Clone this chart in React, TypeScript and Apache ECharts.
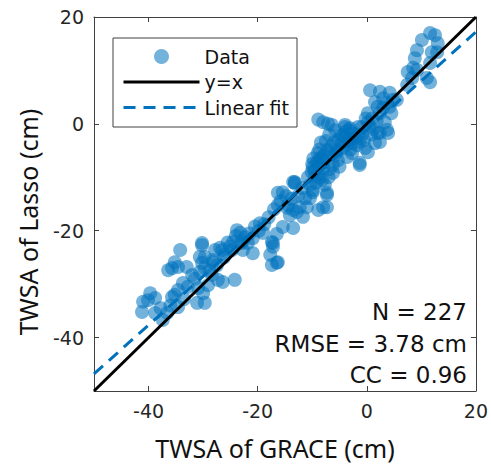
import React, { useEffect, useRef } from "react";
import * as echarts from "echarts";

// [GRACE TWSA (cm), Lasso TWSA (cm)]
const lowerCluster: number[][] = [
  [-34.2, -23.6], [-30.2, -22.3], [-35.2, -25.9], [-35.7, -27.0], [-34.6, -26.8], [-33.0, -26.8],
  [-36.4, -27.4], [-30.6, -24.9], [-29.7, -27.0], [-28.2, -25.9], [-27.8, -23.6], [-26.5, -23.6],
  [-32.0, -28.3], [-33.7, -29.8], [-34.6, -31.1], [-35.2, -32.0], [-35.7, -32.4], [-30.9, -30.7],
  [-30.0, -31.7], [-31.1, -33.5], [-29.7, -33.5], [-34.6, -34.3], [-39.7, -31.7], [-40.1, -33.0],
  [-38.8, -32.6], [-41.0, -33.3], [-41.2, -35.2], [-38.8, -35.4], [-37.4, -36.7], [-36.6, -35.4],
  [-29.1, -30.2], [-28.4, -28.3], [-30.6, -27.7], [-26.4, -29.6], [-27.3, -29.2], [-30.2, -22.7],
  [-29.7, -24.9], [-30.2, -26.0], [-28.2, -25.5], [-26.0, -24.5], [-26.9, -23.2], [-26.2, -25.0],
  [-27.5, -26.5], [-28.8, -27.5], [-31.5, -29.0], [-32.8, -30.5], [-33.5, -32.8], [-36.0, -34.0],
  [-37.8, -34.5],
];
const midBand: number[][] = [
  [-24.7, -23.6], [-22.9, -22.3], [-24.2, -29.2], [-16.3, -12.9], [-16.3, -15.2], [-14.4, -15.2],
  [-12.8, -16.5], [-14.1, -17.1], [-15.4, -19.3], [-13.5, -19.5], [-16.5, -20.6], [-17.4, -22.1],
  [-17.2, -23.0], [-16.3, -25.9], [-17.4, -26.4], [-17.7, -24.5], [-19.6, -18.6], [-19.0, -20.4],
  [-20.9, -21.4], [-21.8, -22.3], [-23.8, -19.9], [-23.2, -20.4], [-24.5, -22.1], [-25.1, -23.0],
  [-22.7, -23.6], [-20.9, -24.2], [-13.2, -11.1], [-13.2, -10.9], [-12.3, -15.6], [-13.5, -16.1],
  [-14.6, -15.7], [-15.4, -12.8], [-16.5, -26.0], [-17.2, -22.3], [-12.6, -13.5], [-13.8, -14.0],
  [-14.8, -13.5], [-15.8, -14.5], [-17.0, -16.0], [-18.0, -17.5], [-18.8, -18.8], [-19.8, -20.0],
  [-20.5, -19.2], [-21.5, -20.5], [-22.3, -21.2], [-23.0, -22.0], [-24.0, -21.0], [-25.5, -22.2],
  [-13.5, -10.9],
];
const centerCluster: number[][] = [
  [-11.7, -17.4], [-11.3, -13.9], [-9.9, -12.8], [-8.0, -15.6], [-8.0, 0.3], [-6.4, -0.2],
  [-4.0, -0.2], [-4.0, -2.5], [-0.9, -0.6], [-1.3, -3.4], [-2.7, -3.6], [-4.6, -3.6],
  [-5.5, -4.9], [-6.8, -5.5], [-8.2, -6.2], [-9.1, -7.1], [-9.9, -8.1], [-10.1, -9.0],
  [-9.5, -9.9], [-8.0, -8.3], [-6.2, -7.7], [-5.3, -6.8], [-3.6, -6.2], [-2.7, -5.5],
  [-1.3, -7.7], [-8.6, -10.1], [-10.4, -11.4], [-9.9, -12.4], [-7.7, -11.4], [-10.4, -13.9],
  [-11.0, -15.6], [-8.9, -16.1], [-7.3, -15.6], [-7.3, -12.9], [-1.6, -0.6], [-3.1, -0.8],
  [-4.0, -0.6], [-0.9, -2.1], [-4.4, -2.1], [-1.3, -7.3], [-7.3, -13.3], [-9.0, -7.5],
  [-8.5, -6.5], [-7.8, -5.8], [-7.2, -4.9], [-6.5, -4.2], [-6.0, -3.5], [-5.2, -3.0],
  [-4.8, -2.2], [-3.9, -1.5], [-3.2, -1.2], [-2.5, -1.8], [-2.0, -2.6], [-1.5, -2.0],
  [-9.6, -8.8], [-8.8, -9.5], [-8.2, -10.5], [-9.3, -11.0], [-10.8, -10.0], [-9.8, -6.5],
  [-8.7, -4.8], [-7.5, -3.2], [-6.9, -2.0], [-7.9, -7.2], [-6.8, -8.5], [-6.0, -6.0],
  [-5.5, -5.3], [-4.6, -4.6], [-3.5, -3.8], [-2.9, -2.9], [-1.8, -4.0], [-0.5, -3.0],
  [-10.0, -7.5], [-9.0, -5.5], [-8.4, -3.5], [-7.0, -10.0], [-6.2, -9.2], [-5.0, -8.0],
  [-7.1, 0.0], [-8.9, 0.8], [-0.3, -4.5], [-3.0, -4.8], [-11.8, -12.0], [-5.8, -1.2],
];
const upperCluster: number[][] = [
  [0.2, 0.3], [2.4, -1.7], [1.5, -3.6], [0.2, -5.3], [11.6, 17.0], [12.5, 16.6],
  [13.0, 15.1], [10.1, 15.7], [12.9, 13.4], [11.9, 13.4], [9.2, 13.8], [8.8, 12.3],
  [11.6, 11.4], [8.5, 10.5], [7.5, 9.7], [9.2, 10.1], [8.3, 8.6], [11.0, 8.6],
  [11.6, 7.8], [7.4, 7.3], [0.6, 6.3], [2.4, 6.0], [4.2, 5.8], [3.0, 4.8],
  [4.8, 4.5], [3.7, 3.9], [1.5, 4.1], [3.0, 3.0], [4.2, 3.2], [0.2, 2.0],
  [2.4, 2.0], [3.3, 0.3], [3.7, -1.1], [2.0, -1.7], [2.4, -3.4], [3.9, -1.7],
  [1.0, 1.0], [2.0, 3.2], [4.5, 2.0], [5.5, 4.5], [0.5, -0.5], [1.2, -1.0],
  [-0.2, 1.0], [0.8, -2.0], [1.8, 0.5],
];

const identityLine: number[][] = [[-50, -50], [20, 20]];
const fitLine: number[][] = [[-50, -46.8], [20, 17.2]];

const tickValues = [-40, -20, 0, 20];
const statsLines = ["N = 227", "RMSE = 3.78 cm", "CC = 0.96"];
const xTitle = "TWSA of GRACE (cm)";
const yTitle = "TWSA of Lasso (cm)";

const AXIS_MIN = -50;
const AXIS_MAX = 20;
const BLUE = "#0072BD";
const FRAME = "#404040";
const TXT = "#262626";
const FONT = "DejaVu Sans";

const hiddenSymbol = {
  color: "rgba(0,0,0,0)",
  borderColor: "rgba(0,0,0,0)",
  borderWidth: 0,
  opacity: 0,
};

export default function App() {
  const ref = useRef<HTMLDivElement>(null);

  useEffect(() => {
    if (!ref.current) return;
    const chart = echarts.init(ref.current, null, { renderer: "svg" });
    const points = [...lowerCluster, ...midBand, ...centerCluster, ...upperCluster];

    const baseAxis = (position: string, showLabel: boolean) => ({
      type: "value",
      position,
      min: AXIS_MIN,
      max: AXIS_MAX,
      interval: 10,
      splitLine: { show: false },
      axisLine: { show: true, onZero: false, lineStyle: { color: FRAME, width: 1 } },
      axisTick: {
        show: true,
        inside: true,
        length: 5,
        customValues: tickValues,
        lineStyle: { color: FRAME, width: 1 },
      },
      axisLabel: {
        show: showLabel,
        customValues: tickValues,
        color: TXT,
        fontFamily: FONT,
        fontSize: 19,
        margin: 10,
      },
    });

    chart.setOption({
      animation: false,
      grid: { left: 94, right: 15, top: 17, bottom: 73, containLabel: false },
      xAxis: [baseAxis("bottom", true), baseAxis("top", false)],
      yAxis: [baseAxis("left", true), baseAxis("right", false)],
      legend: {
        orient: "vertical",
        left: 113,
        top: 38,
        padding: [9, 8, 10, 9],
        itemGap: 6.5,
        itemWidth: 76,
        itemHeight: 15,
        itemTextGap: 5,
        borderColor: FRAME,
        borderWidth: 1,
        backgroundColor: "#fff",
        lineStyle: { width: 3 },
        textStyle: { color: "#111", fontFamily: FONT, fontSize: 19 },
        data: [
          { name: "Data" },
          { name: "y=x", itemStyle: hiddenSymbol },
          { name: "Linear fit", itemStyle: hiddenSymbol },
        ],
      },
      series: [
        {
          name: "Data",
          type: "scatter",
          data: points,
          symbol: "circle",
          symbolSize: 14,
          itemStyle: { color: BLUE, opacity: 0.55 },
          z: 2,
        },
        {
          name: "y=x",
          type: "line",
          data: identityLine,
          symbol: "none",
          lineStyle: { color: "#000", width: 3 },
          itemStyle: { color: "#000" },
          z: 3,
        },
        {
          name: "Linear fit",
          type: "line",
          data: fitLine,
          symbol: "none",
          lineStyle: { color: BLUE, width: 3, type: [12, 8] },
          itemStyle: { color: BLUE },
          z: 4,
        },
      ],
      graphic: [
        {
          type: "text",
          x: 275,
          y: 448,
          style: {
            text: xTitle,
            fontFamily: "Noto Sans",
            fontSize: 25,
            fill: "#111",
            textAlign: "center",
            textVerticalAlign: "middle",
          },
        },
        {
          type: "text",
          x: 28,
          y: 222,
          rotation: Math.PI / 2,
          style: {
            text: yTitle,
            fontFamily: "Noto Sans",
            fontSize: 25,
            fill: "#111",
            textAlign: "center",
            textVerticalAlign: "middle",
          },
        },
        ...statsLines.map((t, i) => ({
          type: "text",
          x: 467,
          y: 312 + i * 31.5,
          z: 10,
          style: {
            text: t,
            fontFamily: FONT,
            fontSize: 23,
            fill: "#111",
            textAlign: "right",
            textVerticalAlign: "middle",
          },
        })),
      ],
    });
    return () => chart.dispose();
  }, []);

  return (
    <div
      ref={ref}
      style={{ position: "fixed", left: 0, top: 0, width: 491, height: 464, background: "#fff" }}
    />
  );
}
